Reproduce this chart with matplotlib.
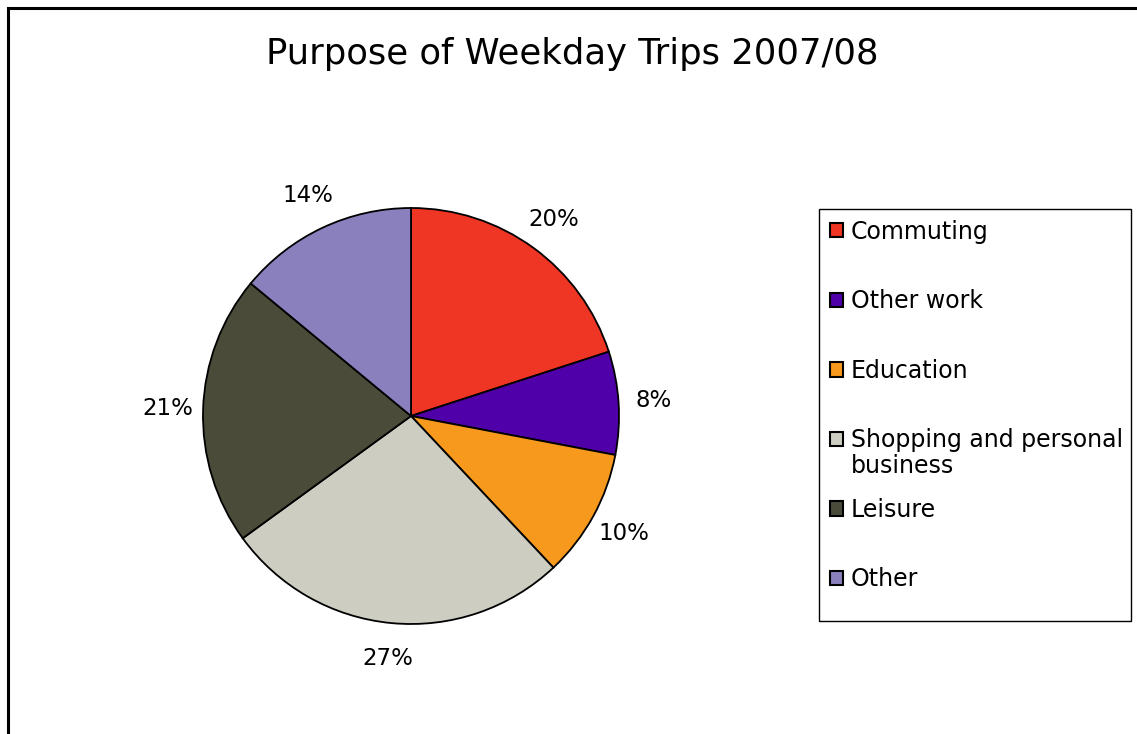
import matplotlib.pyplot as plt
from matplotlib.patches import Rectangle

# data
categories = ['Commuting', 'Other work', 'Education',
              'Shopping and personal', 'Leisure', 'Other']
shares = [20, 8, 10, 27, 21, 14]
colors = ['#EF3524', '#5000A8', '#F7991D', '#CDCDC1', '#4B4B3A', '#8B80BE']

W, H = 1137, 734
fig = plt.figure(figsize=(W / 100, H / 100), dpi=100)

def px(x, y):
    # pixel (from top-left) -> figure fraction
    return x / W, 1 - y / H

# outer chart frame (left and top edges visible, rest clipped)
fig.patches.append(Rectangle((8 / W, -0.1), 1.2, 1 - 8 / H + 0.1,
                             transform=fig.transFigure, fill=False,
                             edgecolor='black', linewidth=2.2))

fig.text(*px(572, 54), 'Purpose of Weekday Trips 2007/08',
         ha='center', va='center', fontsize=25.5)

# pie axes: centre (411, 416), radius ~208 px
r = 208
ax = fig.add_axes([(411 - r) / W, 1 - (416 + r) / H, 2 * r / W, 2 * r / H])
wedges, texts = ax.pie(shares, colors=colors, startangle=90, counterclock=False,
                       labels=[f'{s}%' for s in shares], labeldistance=1.17,
                       wedgeprops=dict(edgecolor='black', linewidth=1.3),
                       textprops=dict(fontsize=16.5))
for t in texts:
    t.set_ha('center')
ax.set_xlim(-1, 1)
ax.set_ylim(-1, 1)
ax.set_aspect('equal')

# legend box (fixed size like the spreadsheet chart)
x0, y0 = px(819, 621)
x1, y1 = px(1131, 209)
fig.patches.append(Rectangle((x0, y0), x1 - x0, y1 - y0, transform=fig.transFigure,
                             fill=False, edgecolor='black', linewidth=1.0))

leg = fig.legend(wedges, categories, loc='upper left',
                 bbox_to_anchor=px(819, 209), bbox_transform=fig.transFigure,
                 fontsize=17, frameon=False,
                 handlelength=0.55, handleheight=0.55, handletextpad=0.35,
                 labelspacing=1.93, borderpad=0.45, borderaxespad=0)
for h in leg.legend_handles:
    h.set_linewidth(1.5)
# second line of the wrapped legend label
fig.text(*px(851, 466), 'business', ha='left', va='center', fontsize=17)

fig.savefig('out.png', dpi=100, facecolor='white')
